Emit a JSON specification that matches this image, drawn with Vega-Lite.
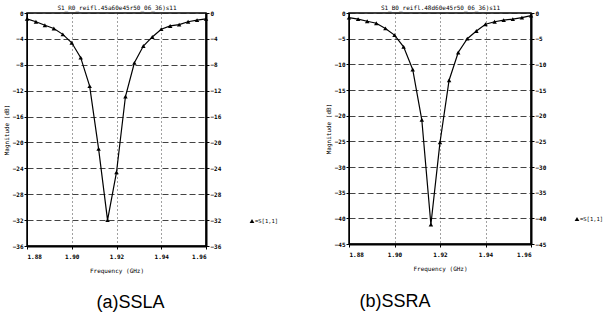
{
  "$schema": "https://vega.github.io/schema/vega-lite/v6.json",
  "padding": {"left": 2, "top": 3, "right": 0, "bottom": 0},
  "background": "white",
  "datasets": {
    "a": [
      {"f": 1.880, "db": -0.9, "trace": "S[1,1]"},
      {"f": 1.884, "db": -1.35, "trace": "S[1,1]"},
      {"f": 1.888, "db": -1.9, "trace": "S[1,1]"},
      {"f": 1.892, "db": -2.4, "trace": "S[1,1]"},
      {"f": 1.896, "db": -3.3, "trace": "S[1,1]"},
      {"f": 1.900, "db": -4.6, "trace": "S[1,1]"},
      {"f": 1.904, "db": -6.9, "trace": "S[1,1]"},
      {"f": 1.908, "db": -11.3, "trace": "S[1,1]"},
      {"f": 1.912, "db": -21.0, "trace": "S[1,1]"},
      {"f": 1.916, "db": -32.0, "trace": "S[1,1]"},
      {"f": 1.920, "db": -24.6, "trace": "S[1,1]"},
      {"f": 1.924, "db": -12.9, "trace": "S[1,1]"},
      {"f": 1.928, "db": -7.7, "trace": "S[1,1]"},
      {"f": 1.932, "db": -5.1, "trace": "S[1,1]"},
      {"f": 1.936, "db": -3.7, "trace": "S[1,1]"},
      {"f": 1.940, "db": -2.5, "trace": "S[1,1]"},
      {"f": 1.944, "db": -2.0, "trace": "S[1,1]"},
      {"f": 1.948, "db": -1.8, "trace": "S[1,1]"},
      {"f": 1.952, "db": -1.35, "trace": "S[1,1]"},
      {"f": 1.956, "db": -1.1, "trace": "S[1,1]"},
      {"f": 1.960, "db": -0.9, "trace": "S[1,1]"}
    ],
    "b": [
      {"f": 1.880, "db": -0.9, "trace": "S[1,1]"},
      {"f": 1.884, "db": -1.2, "trace": "S[1,1]"},
      {"f": 1.888, "db": -1.6, "trace": "S[1,1]"},
      {"f": 1.892, "db": -2.0, "trace": "S[1,1]"},
      {"f": 1.896, "db": -3.0, "trace": "S[1,1]"},
      {"f": 1.900, "db": -4.3, "trace": "S[1,1]"},
      {"f": 1.904, "db": -6.6, "trace": "S[1,1]"},
      {"f": 1.908, "db": -11.0, "trace": "S[1,1]"},
      {"f": 1.912, "db": -20.8, "trace": "S[1,1]"},
      {"f": 1.916, "db": -41.2, "trace": "S[1,1]"},
      {"f": 1.920, "db": -25.2, "trace": "S[1,1]"},
      {"f": 1.924, "db": -13.1, "trace": "S[1,1]"},
      {"f": 1.928, "db": -7.7, "trace": "S[1,1]"},
      {"f": 1.932, "db": -5.0, "trace": "S[1,1]"},
      {"f": 1.936, "db": -3.5, "trace": "S[1,1]"},
      {"f": 1.940, "db": -2.2, "trace": "S[1,1]"},
      {"f": 1.944, "db": -1.7, "trace": "S[1,1]"},
      {"f": 1.948, "db": -1.4, "trace": "S[1,1]"},
      {"f": 1.952, "db": -1.2, "trace": "S[1,1]"},
      {"f": 1.956, "db": -0.9, "trace": "S[1,1]"},
      {"f": 1.960, "db": -0.5, "trace": "S[1,1]"}
    ]
  },
  "config": {
    "view": {"stroke": "black", "strokeWidth": 1.5},
    "axis": {
      "labelFont": "DejaVu Sans Mono", "labelFontSize": 6, "labelFontWeight": "bold", "labelColor": "black",
      "titleFont": "DejaVu Sans Mono", "titleFontSize": 6, "titleFontWeight": "normal", "titleColor": "black",
      "tickColor": "black", "domainColor": "black", "gridColor": "#222", "gridOpacity": 0.85, "tickSize": 3, "labelPadding": 1
    },
    "legend": {"labelFont": "DejaVu Sans Mono", "labelFontSize": 5.5, "labelColor": "black"}
  },
  "spacing": 44,
  "resolve": {"scale": {"shape": "independent"}, "legend": {"shape": "independent"}},
  "hconcat": [
    {
      "width": 179, "height": 233,
      "data": {"name": "a"},
      "title": {"text": "(a)SSLA", "orient": "bottom", "font": "Liberation Sans", "fontSize": 18, "fontWeight": "normal", "color": "black", "offset": 21, "anchor": "middle", "dx": 14},
      "layer": [
        {
          "mark": {"type": "line", "color": "black", "strokeWidth": 1.2},
          "encoding": {
            "x": {"field": "f", "type": "quantitative", "scale": {"domain": [1.88, 1.96], "nice": false, "zero": false},
              "axis": {"orient": "bottom", "values": [1.88, 1.90, 1.92, 1.94, 1.96], "format": ".2f", "title": "Frequency (GHz)", "gridDash": [1, 3], "domainWidth": 2, "labelPadding": 4, "titlePadding": 8}},
            "y": {"field": "db", "type": "quantitative", "scale": {"domain": [-36, 0], "nice": false, "zero": false},
              "axis": {"orient": "left", "values": [-36, -32, -28, -24, -20, -16, -12, -8, -4, 0], "title": "Magnitude (dB)", "gridDash": [6, 3], "titlePadding": 3}}
          }
        },
        {
          "mark": {"type": "point", "filled": true, "size": 20, "color": "black", "opacity": 1},
          "encoding": {
            "x": {"field": "f", "type": "quantitative", "scale": {"domain": [1.88, 1.96], "nice": false, "zero": false},
              "axis": {"orient": "top", "labels": false, "ticks": false, "grid": false, "domain": false, "title": "S1_R0_reifl.45a60e45r50_06_36)s11", "titlePadding": 3}},
            "y": {"field": "db", "type": "quantitative", "scale": {"domain": [-36, 0], "nice": false, "zero": false},
              "axis": {"orient": "right", "values": [-36, -32, -28, -24, -20, -16, -12, -8, -4, 0], "grid": false, "title": null, "domainWidth": 2}},
            "shape": {"field": "trace", "type": "nominal", "scale": {"range": ["triangle-up"]},
              "legend": {"title": null, "orient": "none", "legendX": 222, "legendY": 205, "symbolType": "triangle-up", "symbolSize": 22, "symbolFillColor": "white", "symbolStrokeColor": "black", "symbolStrokeWidth": 1, "labelExpr": "'=' + datum.label", "labelOffset": 0}}
          }
        }
      ],
      "resolve": {"axis": {"x": "independent", "y": "independent"}}
    },
    {
      "width": 182, "height": 231,
      "data": {"name": "b"},
      "title": {"text": "(b)SSRA", "orient": "bottom", "font": "Liberation Sans", "fontSize": 18, "fontWeight": "normal", "color": "black", "offset": 22, "anchor": "middle", "dx": -45},
      "layer": [
        {
          "mark": {"type": "line", "color": "black", "strokeWidth": 1.2},
          "encoding": {
            "x": {"field": "f", "type": "quantitative", "scale": {"domain": [1.88, 1.96], "nice": false, "zero": false},
              "axis": {"orient": "bottom", "values": [1.88, 1.90, 1.92, 1.94, 1.96], "format": ".2f", "title": "Frequency (GHz)", "gridDash": [1, 3], "domainWidth": 2, "labelPadding": 4, "titlePadding": 8}},
            "y": {"field": "db", "type": "quantitative", "scale": {"domain": [-45, 0], "nice": false, "zero": false},
              "axis": {"orient": "left", "values": [-45, -40, -35, -30, -25, -20, -15, -10, -5, 0], "title": "Magnitude (dB)", "gridDash": [6, 3], "titlePadding": 3}}
          }
        },
        {
          "mark": {"type": "point", "filled": true, "size": 20, "color": "black", "opacity": 1},
          "encoding": {
            "x": {"field": "f", "type": "quantitative", "scale": {"domain": [1.88, 1.96], "nice": false, "zero": false},
              "axis": {"orient": "top", "labels": false, "ticks": false, "grid": false, "domain": false, "title": "S1_B0_reifl.48d60e45r50_06_36)s11", "titlePadding": 3}},
            "y": {"field": "db", "type": "quantitative", "scale": {"domain": [-45, 0], "nice": false, "zero": false},
              "axis": {"orient": "right", "values": [-45, -40, -35, -30, -25, -20, -15, -10, -5, 0], "grid": false, "title": null, "domainWidth": 2}},
            "shape": {"field": "trace", "type": "nominal", "scale": {"range": ["triangle-up"]},
              "legend": {"title": null, "orient": "none", "legendX": 225, "legendY": 203, "symbolType": "triangle-up", "symbolSize": 22, "symbolFillColor": "white", "symbolStrokeColor": "black", "symbolStrokeWidth": 1, "labelExpr": "'=' + datum.label", "labelOffset": 0}}
          }
        }
      ],
      "resolve": {"axis": {"x": "independent", "y": "independent"}}
    }
  ]
}
